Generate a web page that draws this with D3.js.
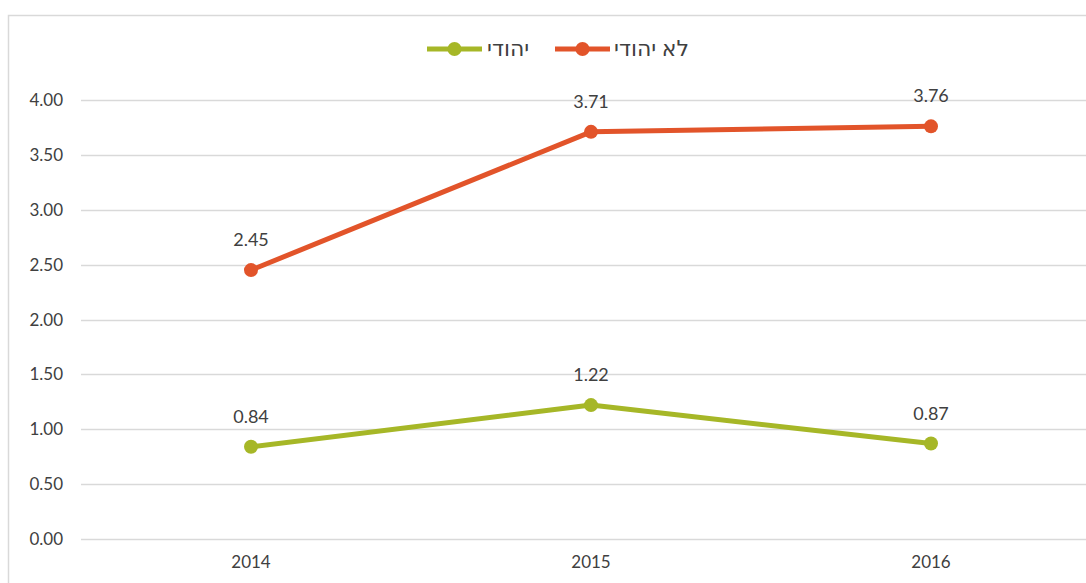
<!DOCTYPE html>
<html>
<head>
<meta charset="utf-8">
<script src="https://cdn.jsdelivr.net/npm/d3@7"></script>
<style>
body { margin: 0; background: #fff; }
text { font-family: Lato, "Noto Sans", "DejaVu Sans", sans-serif; fill: #404040; }
</style>
</head>
<body>
<script>
var years = ["2014", "2015", "2016"];
var seriesNames = ["יהודי", "לא יהודי"];
var jewish = [0.84, 1.22, 0.87];
var nonJewish = [2.45, 3.71, 3.76];
var yTicks = [0, 0.5, 1, 1.5, 2, 2.5, 3, 3.5, 4];
var colors = ["#a6b727", "#e2542a"];

var svgWidth = 1086;
var svgHeight = 583;

var svg = d3.select('body').append('svg')
	.attr("width", svgWidth)
	.attr("height", svgHeight);

// chart frame
svg.append("rect")
	.attr("x", 8.5).attr("y", 15.5)
	.attr("width", 1100).attr("height", 600)
	.attr("fill", "none")
	.attr("stroke", "#d9d9d9")
	.attr("stroke-width", 1.5);

var x = d3.scalePoint()
	.domain(years)
	.range([251, 931]);

var y = d3.scaleLinear()
	.domain([0, 4])
	.range([539, 100]);

// gridlines
svg.selectAll('line.grid')
	.data(yTicks)
	.enter()
	.append('line')
	.attr("class", "grid")
	.attr("x1", 81).attr("x2", svgWidth)
	.attr("y1", d => Math.round(y(d)) + 0.5)
	.attr("y2", d => Math.round(y(d)) + 0.5)
	.attr("stroke", "#d9d9d9")
	.attr("stroke-width", 1.3);

// y labels
svg.selectAll('text.ylab')
	.data(yTicks)
	.enter()
	.append('text')
	.attr("class", "ylab")
	.attr("x", 63)
	.attr("y", d => y(d) + 6)
	.attr("text-anchor", "end")
	.style("font-size", "17px")
	.text(d => d3.format(".2f")(d));

// x labels
svg.selectAll('text.xlab')
	.data(years)
	.enter()
	.append('text')
	.attr("class", "xlab")
	.attr("x", d => x(d))
	.attr("y", 568)
	.attr("text-anchor", "middle")
	.style("font-size", "17px")
	.text(d => d);

var allSeries = [jewish, nonJewish];
var line = d3.line()
	.x((d, i) => x(years[i]))
	.y(d => y(d));

allSeries.forEach(function(vals, s){
	svg.append("path")
		.datum(vals)
		.attr("d", line)
		.attr("fill", "none")
		.attr("stroke", colors[s])
		.attr("stroke-width", 5)
		.attr("stroke-linejoin", "round");

	svg.selectAll('circle.s' + s)
		.data(vals)
		.enter()
		.append('circle')
		.attr("class", "s" + s)
		.attr("r", 7)
		.attr("cx", (d, i) => x(years[i]))
		.attr("cy", d => y(d))
		.attr("fill", colors[s]);

	svg.selectAll('text.v' + s)
		.data(vals)
		.enter()
		.append('text')
		.attr("class", "v" + s)
		.attr("x", (d, i) => x(years[i]))
		.attr("y", d => y(d) - 24)
		.attr("text-anchor", "middle")
		.style("font-size", "18px")
		.text(d => d3.format(".2f")(d));
});

// legend
var legendX = [427, 555];
var legendText = [487, 614];
seriesNames.forEach(function(name, s){
	svg.append("line")
		.attr("x1", legendX[s]).attr("x2", legendX[s] + 55)
		.attr("y1", 49).attr("y2", 49)
		.attr("stroke", colors[s])
		.attr("stroke-width", 5);
	svg.append("circle")
		.attr("cx", legendX[s] + 27.5).attr("cy", 49)
		.attr("r", 7)
		.attr("fill", colors[s]);
	svg.append("text")
		.attr("x", legendText[s])
		.attr("y", 56)
		.attr("text-anchor", "start")
		.style("font-size", "22px")
		.text(name);
});
</script>
</body>
</html>
